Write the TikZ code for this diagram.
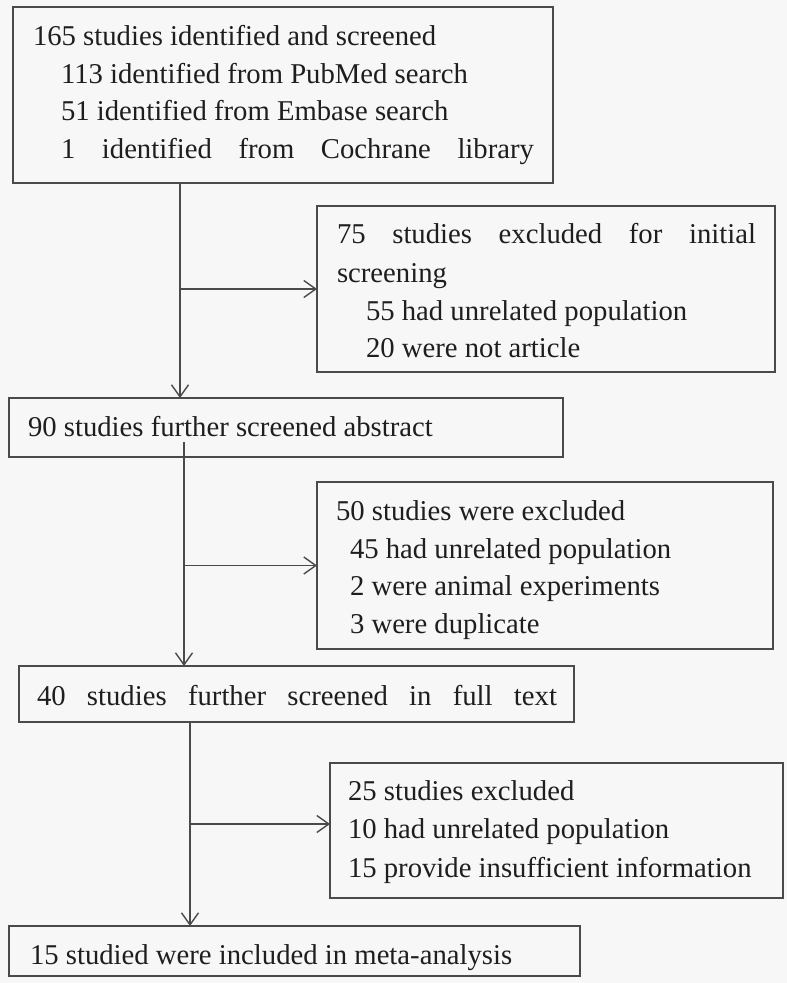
\documentclass[tikz,border=0pt]{standalone}
\usepackage{fontspec}
\setmainfont{Liberation Serif}
\usetikzlibrary{arrows.meta}
\definecolor{bgcol}{HTML}{F6F7F6}
\definecolor{edgecol}{HTML}{4A4A4A}
\definecolor{txtcol}{HTML}{1E1E1E}
\tikzset{
  box/.style={draw=edgecol, line width=1.5pt, inner sep=0pt, outer sep=0pt, anchor=north west},
  txt/.style={anchor=base west, inner sep=0pt, outer sep=0pt, text=txtcol, font=\fontsize{28.7}{38}\selectfont},
  arr/.style={draw=edgecol, line width=1.4pt, -{Straight Barb[length=12pt,width=17pt]}}
}
\begin{document}
\begin{tikzpicture}[x=1pt,y=-1pt]
\fill[bgcol] (0,0) rectangle (787,983);
\useasboundingbox (0,0) rectangle (787,983);

% boxes
\node[box, minimum width=540pt, minimum height=176pt] (b1) at (13,7) {};
\node[box, minimum width=458pt, minimum height=166pt] (bA) at (317,206) {};
\node[box, minimum width=554pt, minimum height=59pt] (b2) at (9,398) {};
\node[box, minimum width=456pt, minimum height=167pt] (bB) at (317,482) {};
\node[box, minimum width=555pt, minimum height=56pt] (b3) at (19,666) {};
\node[box, minimum width=453pt, minimum height=135pt] (bC) at (330,763) {};
\node[box, minimum width=571pt, minimum height=50pt] (b4) at (9,926) {};

% texts box 1
\node[txt] (t11) at (33,45.5) {165 studies identified and screened};
\node[txt] (t12) at (61,83) {113 identified from PubMed search};
\node[txt] (t13) at (61,120.5) {51 identified from Embase search};
\node[txt] (t14) at (61,158) {\makebox[473pt][s]{1 identified from Cochrane library}};

% texts box A
\node[txt] (tA1) at (337,243) {\makebox[419pt][s]{75 studies excluded for initial}};
\node[txt] (tA2) at (337,282) {screening};
\node[txt] (tA3) at (366,320) {55 had unrelated population};
\node[txt] (tA4) at (366,357) {20 were not article};

% text box 2
\node[txt] (t21) at (28,436) {90 studies further screened abstract};

% texts box B
\node[txt] (tB1) at (336,520) {50 studies were excluded};
\node[txt] (tB2) at (350,558) {45 had unrelated population};
\node[txt] (tB3) at (350,595) {2 were animal experiments};
\node[txt] (tB4) at (350,633) {3 were duplicate};

% text box 3
\node[txt] (t31) at (37,705) {\makebox[520pt][s]{40 studies further screened in full text}};

% texts box C
\node[txt] (tC1) at (348,800) {25 studies excluded};
\node[txt] (tC2) at (348,838) {10 had unrelated population};
\node[txt] (tC3) at (348,877) {15 provide insufficient information};

% text box 4
\node[txt] (t41) at (30,964) {15 studied were included in meta-analysis};

% connectors
\coordinate (v1) at (180,0);
\coordinate (s2) at (184,442);
\coordinate (v3) at (190,0);
\coordinate (hC) at (190,824);

\draw[arr] (b1.south -| v1) -- (b2.north -| v1);
\draw[arr] (bA.west -| v1) -- (bA.west);
\draw[arr] (s2) -- (b3.north -| s2);
\draw[arr] (bB.west -| s2) -- (bB.west);
\draw[arr] (b3.south -| v3) -- (b4.north -| v3);
\draw[arr] (hC) -- (hC -| bC.west);
\end{tikzpicture}
\end{document}
